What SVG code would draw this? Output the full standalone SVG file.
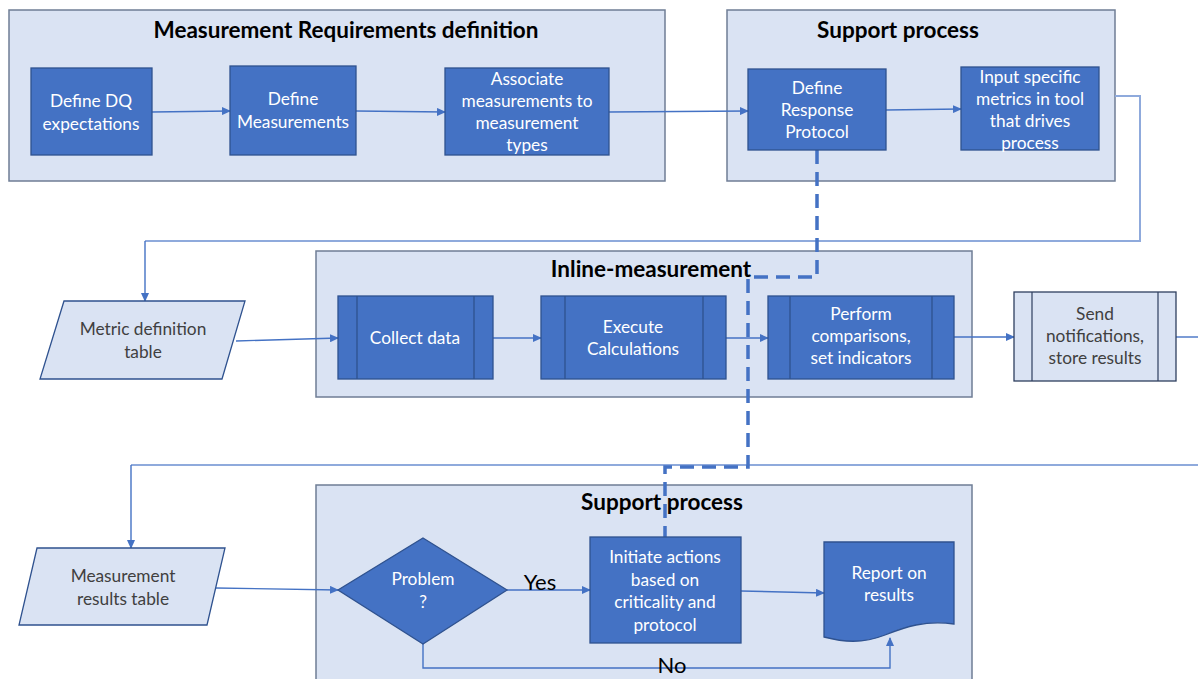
<svg xmlns="http://www.w3.org/2000/svg" width="1198" height="679" viewBox="0 0 1198 679">
<defs>
<style>
.cont{fill:#DAE3F3;stroke:#6F7D95;stroke-width:1.5}
.box{fill:#4472C4;stroke:#2F528F;stroke-width:1.3}
.lbox{fill:#DAE3F3;stroke:#2F3F5F;stroke-width:1.3}
.ln{fill:none;stroke:#2F528F;stroke-width:1.3}
.lln{fill:none;stroke:#2F3F5F;stroke-width:1.2}
.title{font-family:Lato,"Open Sans",sans-serif;font-weight:bold;font-size:22.5px;fill:#000;text-anchor:middle}
.wt{font-family:Lato,"Open Sans",sans-serif;font-size:17.3px;fill:#fff;text-anchor:middle}
.dt{font-family:Lato,"Open Sans",sans-serif;font-size:17.3px;fill:#404040;text-anchor:middle}
.lab{font-family:Lato,"Open Sans",sans-serif;font-size:22px;fill:#000;text-anchor:middle}
.con{fill:none;stroke:#4472C4;stroke-width:1.4}
.route{fill:none;stroke:#8FAADC;stroke-width:2}
.dash{fill:none;stroke:#4472C4;stroke-width:3.5;stroke-dasharray:14 8}
</style>
<marker id="ah" markerWidth="9" markerHeight="8" refX="8" refY="4" orient="auto" markerUnits="userSpaceOnUse">
<path d="M0,0 L9,4 L0,8 Z" fill="#4472C4"/>
</marker>
</defs>

<g id="container-requirements">
<rect class="cont" x="9" y="10" width="656" height="171"/>
<text class="title" x="346" y="38">Measurement Requirements definition</text>
</g>
<g id="container-support-top">
<rect class="cont" x="727" y="10" width="388" height="171"/>
<text class="title" x="898" y="38">Support process</text>
</g>
<g id="container-inline">
<rect class="cont" x="316" y="251" width="656" height="146"/>
<text class="title" x="651" y="277">Inline-measurement</text>
</g>
<g id="container-support-bottom">
<rect class="cont" x="316" y="485" width="656" height="200"/>
<text class="title" x="662" y="510">Support process</text>
</g>

<g id="connectors">
<path class="con" d="M152,112 L230,111" marker-end="url(#ah)"/>
<path class="con" d="M356,111 L445,112" marker-end="url(#ah)"/>
<path class="con" d="M609,112 L748,111" marker-end="url(#ah)"/>
<path class="con" d="M886,110 L961,109" marker-end="url(#ah)"/>
<path class="route" d="M1115,96 H1140 V241 H145"/>
<path class="con" d="M145,241 V301" marker-end="url(#ah)"/>
<path class="con" d="M236,341 L338,338" marker-end="url(#ah)"/>
<path class="con" d="M493,338 L541,338" marker-end="url(#ah)"/>
<path class="con" d="M726,338 L768,338" marker-end="url(#ah)"/>
<path class="con" d="M954,337 L1014,337" marker-end="url(#ah)"/>
<path class="con" d="M1176,337 L1198,337"/>
<path class="route" d="M1198,465 H131"/>
<path class="con" d="M131,465 V548" marker-end="url(#ah)"/>
<path class="con" d="M216,588 L338,590" marker-end="url(#ah)"/>
<path class="con" d="M507,590 L590,590" marker-end="url(#ah)"/>
<path class="con" d="M741,591 L824,593" marker-end="url(#ah)"/>
<path class="con" d="M423,644 V668 H890 V638" marker-end="url(#ah)"/>
<path class="dash" d="M817,150 V277 H748 V467 H665 V537"/>
<text class="lab" x="540" y="590">Yes</text>
<text class="lab" x="672" y="673">No</text>
</g>

<g id="node-define-dq">
<rect class="box" x="31" y="68" width="121" height="87"/>
<text class="wt" x="91" y="107">Define DQ</text>
<text class="wt" x="91" y="130">expectations</text>
</g>
<g id="node-define-measurements">
<rect class="box" x="230" y="66" width="126" height="89"/>
<text class="wt" x="293" y="105">Define</text>
<text class="wt" x="293" y="128">Measurements</text>
</g>
<g id="node-associate">
<rect class="box" x="445" y="68" width="164" height="87"/>
<text class="wt" x="527" y="85">Associate</text>
<text class="wt" x="527" y="107">measurements to</text>
<text class="wt" x="527" y="129">measurement</text>
<text class="wt" x="527" y="151">types</text>
</g>
<g id="node-define-response">
<rect class="box" x="748" y="69" width="138" height="81"/>
<text class="wt" x="817" y="94">Define</text>
<text class="wt" x="817" y="116">Response</text>
<text class="wt" x="817" y="138">Protocol</text>
</g>
<g id="node-input-metrics">
<rect class="box" x="961" y="67" width="138" height="83"/>
<text class="wt" x="1030" y="83">Input specific</text>
<text class="wt" x="1030" y="105">metrics in tool</text>
<text class="wt" x="1030" y="127">that drives</text>
<text class="wt" x="1030" y="149">process</text>
</g>

<g id="node-metric-table">
<path class="lbox" d="M64,301 H245 L222,379 H40 Z" style="stroke:#2F528F"/>
<text class="dt" x="143" y="335">Metric definition</text>
<text class="dt" x="143" y="358">table</text>
</g>
<g id="node-collect">
<rect class="box" x="338" y="296" width="155" height="83"/>
<path class="ln" d="M357,296 V379 M474,296 V379"/>
<text class="wt" x="415" y="344">Collect data</text>
</g>
<g id="node-execute">
<rect class="box" x="541" y="296" width="185" height="83"/>
<path class="ln" d="M565,296 V379 M703,296 V379"/>
<text class="wt" x="633" y="333">Execute</text>
<text class="wt" x="633" y="355">Calculations</text>
</g>
<g id="node-perform">
<rect class="box" x="768" y="296" width="186" height="83"/>
<path class="ln" d="M790,296 V379 M932,296 V379"/>
<text class="wt" x="861" y="320">Perform</text>
<text class="wt" x="861" y="342">comparisons,</text>
<text class="wt" x="861" y="364">set indicators</text>
</g>
<g id="node-send">
<rect class="lbox" x="1014" y="292" width="162" height="89"/>
<path class="lln" d="M1032,292 V381 M1158,292 V381"/>
<text class="dt" x="1095" y="320">Send</text>
<text class="dt" x="1095" y="342">notifications,</text>
<text class="dt" x="1095" y="364">store results</text>
</g>

<g id="node-results-table">
<path class="lbox" d="M37,548 H225 L207,625 H19 Z" style="stroke:#2F528F"/>
<text class="dt" x="123" y="582">Measurement</text>
<text class="dt" x="123" y="605">results table</text>
</g>
<g id="node-problem">
<path class="box" d="M423,538 L507,590 L423,644 L338,590 Z"/>
<text class="wt" x="423" y="585">Problem</text>
<text class="wt" x="423" y="608">?</text>
</g>
<g id="node-initiate">
<rect class="box" x="590" y="537" width="151" height="106"/>
<text class="wt" x="665" y="563">Initiate actions</text>
<text class="wt" x="665" y="586">based on</text>
<text class="wt" x="665" y="608">criticality and</text>
<text class="wt" x="665" y="631">protocol</text>
</g>
<g id="node-report">
<path class="box" d="M824,542 H954 V624 C925,620 905,627 885,635 C862,644 843,642 824,637 Z"/>
<text class="wt" x="889" y="579">Report on</text>
<text class="wt" x="889" y="601">results</text>
</g>
</svg>
